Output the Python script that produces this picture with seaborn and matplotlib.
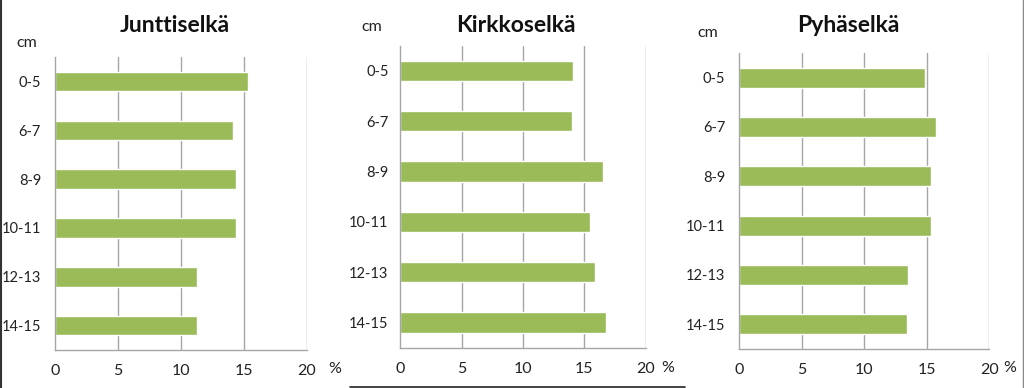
import pandas as pd
import matplotlib
matplotlib.use("Agg")
import matplotlib.pyplot as plt
import seaborn as sns

# Syvyysluokat (cm) ja osuudet (%)
depths = ["0-5", "6-7", "8-9", "10-11", "12-13", "14-15"]
junttiselka = [15.3, 14.1, 14.35, 14.4, 11.3, 11.3]
kirkkoselka = [14.05, 14.0, 16.5, 15.45, 15.9, 16.8]
pyhaselka = [14.85, 15.75, 15.35, 15.3, 13.5, 13.4]
titles = ["Junttiselkä", "Kirkkoselkä", "Pyhäselkä"]
x_ticks = [0, 5, 10, 15, 20]

sns.set_theme(style="white")
plt.rcParams["font.family"] = ["Lato", "DejaVu Sans"]

fig = plt.figure(figsize=(10.24, 3.88), dpi=100)

# paneelien paikat kuvassa (left, bottom, width, height)
boxes = [
    [0.0537, 0.098, 0.2461, 0.755],
    [0.391, 0.104, 0.2396, 0.778],
    [0.722, 0.1005, 0.2441, 0.763],
]
title_pos = [(175, 25), (516, 25), (848, 26)]
cm_pos = [(27, 43), (372, 27), (708, 33)]
pct_pos = [(335, 369), (668, 368), (1010, 368)]
label_pad = [10, 8.5, 10]

grid_col = "#A6A6A6"
bar_col = "#9BBB59"

for i, vals in enumerate([junttiselka, kirkkoselka, pyhaselka]):
    df = pd.DataFrame({"syvyys": depths, "osuus": vals})
    ax = fig.add_axes(boxes[i])
    sns.barplot(data=df, x="osuus", y="syvyys", orient="h", color=bar_col,
                width=0.4, saturation=1, ax=ax)
    ax.set_xlim(0, 20)
    ax.set_ylim(5.5, -0.5)
    ax.set_xticks(x_ticks)
    ax.set_xticklabels([str(t) for t in x_ticks], fontsize=11.5, color="#222222")
    ax.set_yticks(range(len(depths)))
    ax.set_yticklabels(depths, fontsize=10.5, color="#222222")
    ax.set_xlabel("")
    ax.set_ylabel("")
    for x in x_ticks[1:]:
        ax.axvline(x, color=grid_col, lw=1, zorder=0)
    # pienet jakoviivat kategorioiden väliin
    ax.set_yticks([k - 0.5 for k in range(len(depths) + 1)], minor=True)
    ax.tick_params(axis="y", which="major", length=0, pad=label_pad[i])
    ax.tick_params(axis="y", which="minor", length=4, color=grid_col, width=1)
    ax.tick_params(axis="x", length=4, color=grid_col, width=1, pad=6)
    for s in ["top", "right"]:
        ax.spines[s].set_visible(False)
    for s in ["left", "bottom"]:
        ax.spines[s].set_color(grid_col)
        ax.spines[s].set_linewidth(1)
    ax.set_axisbelow(True)

    fig.text(title_pos[i][0] / 1024, 1 - title_pos[i][1] / 388, titles[i],
             ha="center", va="center", fontsize=16.5, fontweight="bold",
             color="#111111")
    fig.text(cm_pos[i][0] / 1024, 1 - cm_pos[i][1] / 388, "cm",
             ha="center", va="center", fontsize=11.5, color="#222222")
    fig.text(pct_pos[i][0] / 1024, 1 - pct_pos[i][1] / 388, "%",
             ha="center", va="center", fontsize=11.5, color="#222222")

# kuvan reunaviivat (alkuperäisen kuvakaappauksen rajat)
fig.add_artist(plt.Line2D([0.001, 0.001], [0, 1], color="#333333", lw=1.5))
fig.add_artist(plt.Line2D([350 / 1024, 685 / 1024], [1 - 386.5 / 388] * 2,
                          color="#222222", lw=1.2))
fig.add_artist(plt.Line2D([0.999, 0.999], [0, 1], color="#888888", lw=1))

fig.savefig("out.png", dpi=100, facecolor="white")
